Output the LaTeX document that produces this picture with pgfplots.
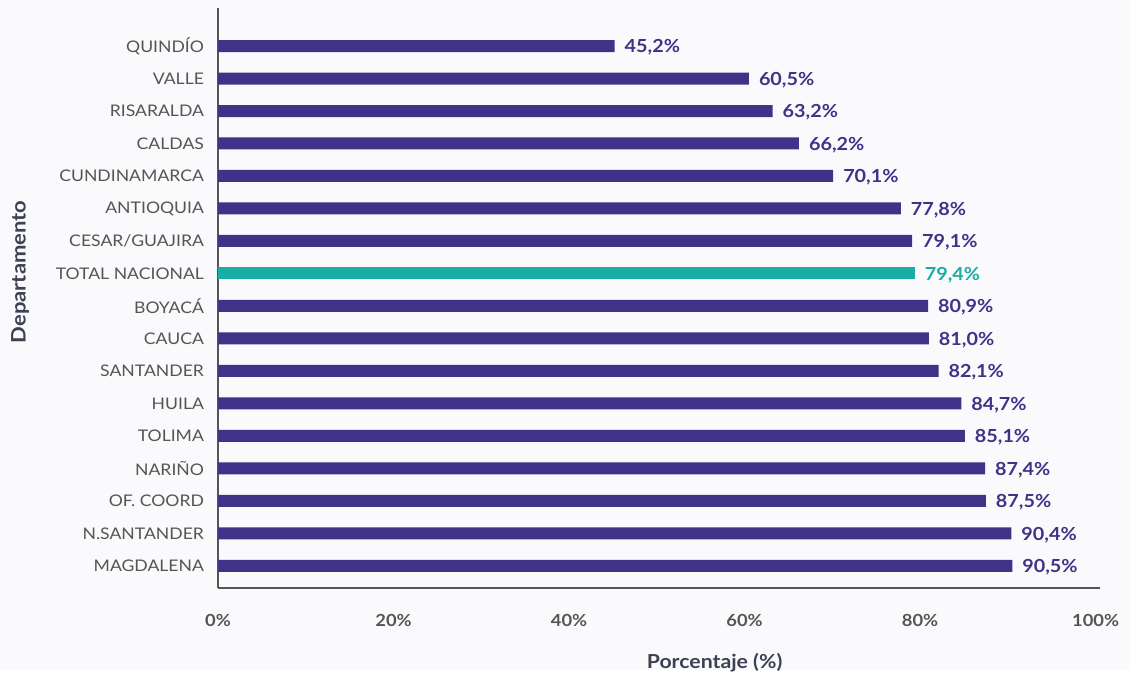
\documentclass[border=0pt]{standalone}
\usepackage{pgfplots}
\pgfplotsset{compat=1.18}
\usepackage{fontspec}
\setmainfont{Lato}[FakeStretch=1.1]
\definecolor{bg}{HTML}{FAFAFC}
\definecolor{barp}{HTML}{3F3388}
\definecolor{bart}{HTML}{1AADA5}
\definecolor{txt}{HTML}{555555}
\definecolor{ttl}{HTML}{3D4152}
\begin{document}
\begin{tikzpicture}[x=0.75pt,y=0.75pt]
\fill[bg] (0,0) rectangle (1130,670);
\begin{axis}[
  at={(163.5pt,61.5pt)}, anchor=south west,
  scale only axis, width=661.5pt, height=435pt,
  xbar, bar width=9pt, bar shift=0pt,
  xmin=0, xmax=100.5, ymin=-0.68, ymax=17.17,
  axis x line*=bottom, axis y line*=left,
  axis line style={draw=txt, line width=0.8pt},
  x axis line style={-}, y axis line style={-},
  major tick length=0pt,
  xtick={0,20,40,60,80,100},
  xticklabel={\pgfmathprintnumber{\tick}\%},
  ytick={0,...,16},
  yticklabels={MAGDALENA,N.SANTANDER,OF. COORD,NARIÑO,TOLIMA,HUILA,SANTANDER,CAUCA,BOYACÁ,TOTAL NACIONAL,CESAR/GUAJIRA,ANTIOQUIA,CUNDINAMARCA,CALDAS,RISARALDA,VALLE,QUINDÍO},
  /pgf/number format/assume math mode=true,
  xticklabel style={font=\fontsize{12.5}{13}\selectfont\bfseries, text=txt, yshift=-16pt},
  yticklabel style={font=\fontsize{12}{13}\selectfont, text=txt, xshift=-7pt},
  xlabel={Porcentaje (\%)},
  xlabel style={font=\fontsize{14.5}{15}\selectfont\bfseries, text=ttl, at={(axis description cs:0.563,-0.128)}, anchor=center},
  ylabel={Departamento},
  ylabel style={font=\fontsize{15}{16}\selectfont\bfseries, text=ttl, at={(axis description cs:-0.2245,0.545)}, anchor=center, rotate=0},
  nodes near coords={\pgfmathprintnumber[fixed,fixed zerofill,precision=1,use comma]{\pgfplotspointmeta}\%},
  point meta=x,
  nodes near coords style={font=\fontsize{13.5}{14}\selectfont\bfseries, anchor=west, xshift=4pt, yshift=-1pt},
  clip=false,
]
\addplot[draw=none, fill=barp, nodes near coords style={text=barp}] coordinates {
 (90.5,0) (90.4,1) (87.5,2) (87.4,3) (85.1,4) (84.7,5) (82.1,6) (81.0,7) (80.9,8)
 (79.1,10) (77.8,11) (70.1,12) (66.2,13) (63.2,14) (60.5,15) (45.2,16)
};
\addplot[draw=none, fill=bart, nodes near coords style={text=bart}] coordinates {(79.4,9)};
\end{axis}
\end{tikzpicture}
\end{document}
